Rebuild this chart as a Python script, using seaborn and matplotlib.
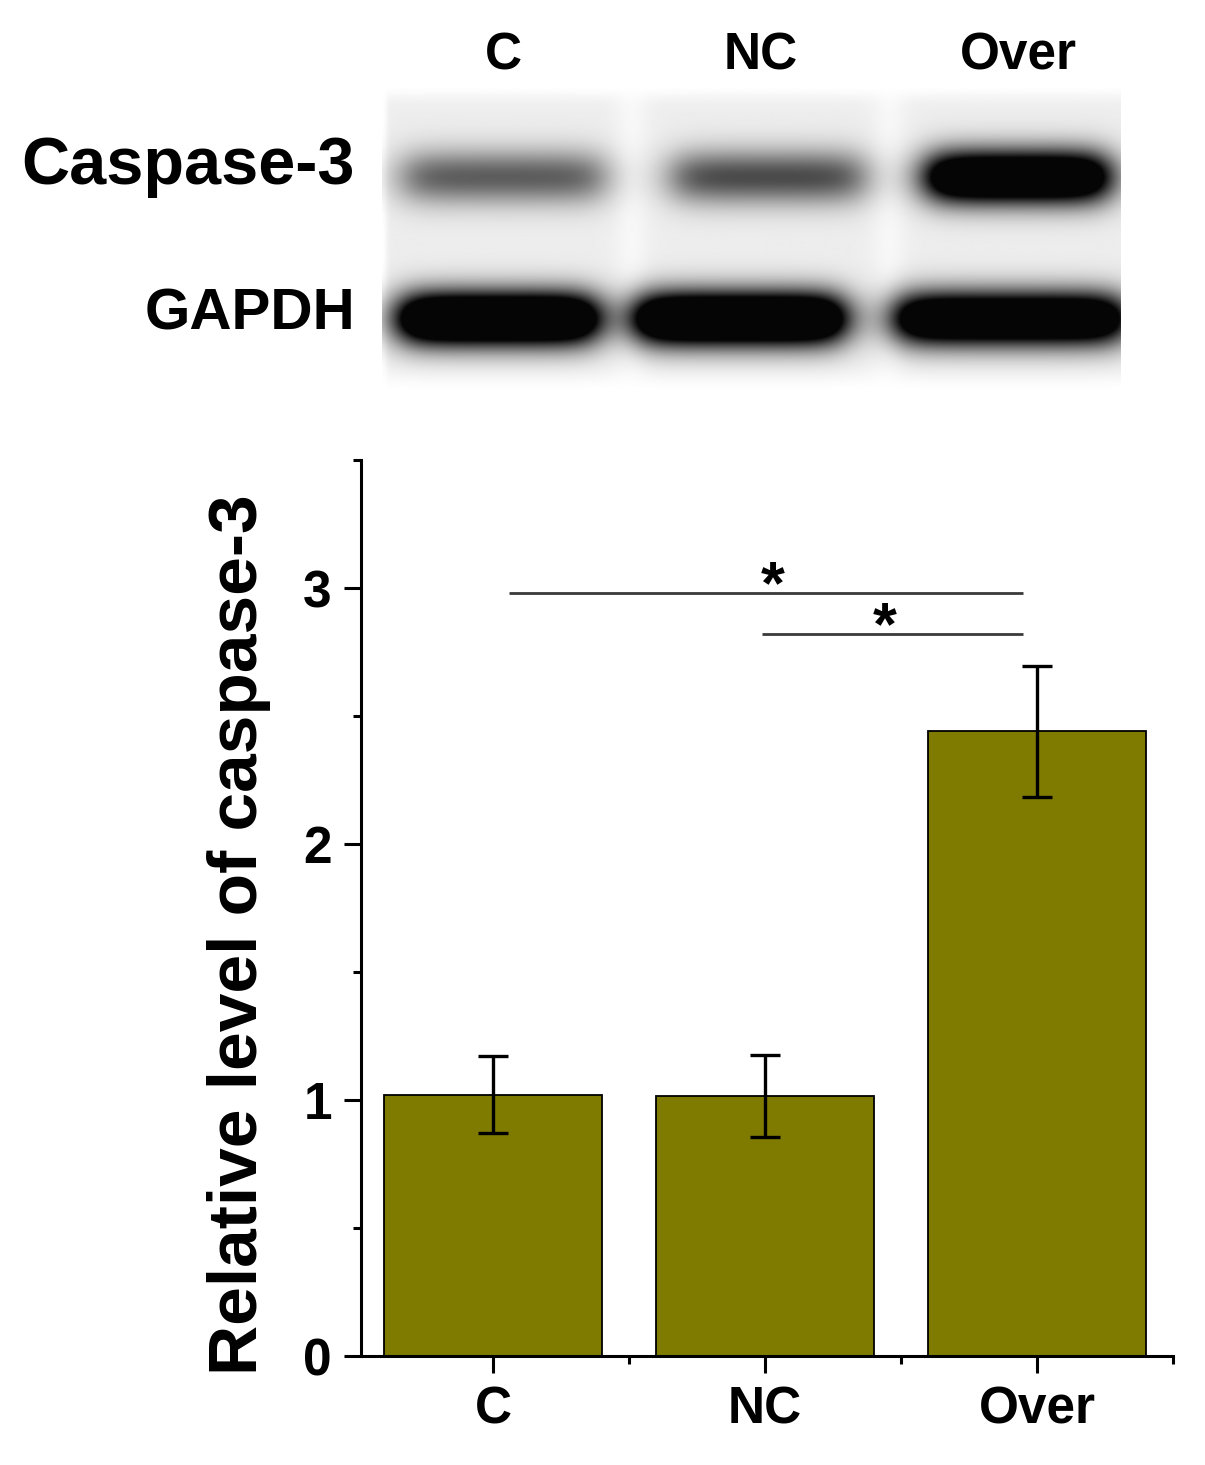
import numpy as np
import pandas as pd
import matplotlib
matplotlib.use("Agg")
import matplotlib.pyplot as plt
from matplotlib.ticker import MultipleLocator
import seaborn as sns

# quantification
groups = ["C", "NC", "Over"]
means = [1.02, 1.015, 2.44]
sds = [0.15, 0.16, 0.255]

# significance bars: (start, end, height)
sig_x0 = [0.06, 0.99]
sig_x1 = [1.95, 1.95]
sig_y = [2.98, 2.82]
star_x = [1.03, 1.44]

# western blot band darkness per lane (>1 = saturated)
blot_rows = ["Caspase-3", "GAPDH"]
casp_darkness = [0.62, 0.70, 1.7]
gapdh_darkness = [1.9, 1.9, 1.7]

bar_color = "#7f7b00"

if __name__ == "__main__":
    sns.set_style("white")
    plt.rcParams['font.family'] = ['Liberation Sans', 'DejaVu Sans']
    plt.rcParams['font.weight'] = 'bold'
    for k in ['text.color', 'axes.labelcolor', 'xtick.color', 'ytick.color']:
        plt.rcParams[k] = 'black'
    plt.rcParams['xtick.minor.width'] = 2.2
    plt.rcParams['ytick.minor.width'] = 2.2
    plt.rcParams['xtick.minor.size'] = 6
    plt.rcParams['ytick.minor.size'] = 6

    fig = plt.figure(figsize=(12.05, 14.65), dpi=100)
    W, H = 1205, 1465

    # ---------- blot ----------
    axb = fig.add_axes([382 / W, 1 - 392 / H, 739 / W, 307 / H])
    x0, x1 = -0.47, 2.40
    xs = np.linspace(x0, x1, 740)
    ys = np.linspace(0, 307, 308)
    X, Y = np.meshgrid(xs, ys)
    bg = np.full_like(X, 0.93)
    # lighter gaps between lanes
    for g in [0.5, 1.5]:
        bg += 0.04 * np.exp(-((X - g) / 0.07) ** 2)
    # fade edges to white
    bg += (1 - bg) * np.exp(-(Y / 14.0) ** 2)
    bg += (1 - bg) * np.exp(-((307 - Y) / 22.0) ** 2)
    bg += (1 - bg) * np.exp(-((X - x0) / 0.02) ** 2)
    dark = np.zeros_like(X)
    rows = [(casp_darkness, 92, 27, [0.0, 0.03, 0.0], [0.39, 0.37, 0.35]),
            (gapdh_darkness, 234, 27, [-0.02, -0.08, -0.03], [0.38, 0.40, 0.44])]
    for vals, yc, sy, shifts, hws in rows:
        for i, v in enumerate(vals):
            dx = X - (i + shifts[i])
            hw = hws[i]
            px = 0.5 * (np.tanh((dx + hw) / 0.09) - np.tanh((dx - hw) / 0.09))
            py = np.exp(-(np.abs(Y - yc) / sy) ** 2.0)
            dark += v * px * py
    img = bg * (1 - np.clip(dark, 0, 1)) + 0.02 * np.clip(dark, 0, 1)
    img = np.clip(img, 0, 1)
    axb.imshow(img, cmap="gray", vmin=0, vmax=1, extent=(x0, x1, 307, 0),
               aspect="auto", interpolation="bilinear")
    axb.set_xlim(x0, x1)
    axb.set_ylim(307, 0)
    axb.axis("off")
    for i, g in enumerate(groups):
        axb.text(i, -15, g, ha="center", va="baseline", fontsize=37, fontweight="bold")

    fig.text(355 / W, 1 - 184 / H, blot_rows[0], ha="right", va="baseline",
             fontsize=48, fontweight="bold")
    fig.text(355 / W, 1 - 330 / H, blot_rows[1], ha="right", va="baseline",
             fontsize=42, fontweight="bold")

    # ---------- bar chart ----------
    ax = fig.add_axes([361 / W, 1 - 1356 / H, (1173 - 361) / W, (1356 - 460) / H])
    df = pd.DataFrame({"group": groups, "value": means, "sd": sds})
    sns.barplot(data=df, x="group", y="value", color=bar_color, saturation=1,
                edgecolor="black", linewidth=1.3, width=0.8, errorbar=None, ax=ax)
    ax.errorbar(x=np.arange(len(groups)), y=df["value"], yerr=df["sd"], fmt="none",
                ecolor="black", elinewidth=2.4, capsize=11, capthick=2.4, zorder=5)

    for a, b, h in zip(sig_x0, sig_x1, sig_y):
        ax.plot([a, b], [h, h], color="#3a3a3a", linewidth=2.0, solid_capstyle="butt")
    for sx, h in zip(star_x, sig_y):
        ax.text(sx, h - 0.04, "*", ha="center", va="baseline", fontsize=44,
                fontweight="bold")

    ax.set_xlim(-0.485, 2.5)
    ax.set_ylim(0, 3.5)
    ax.yaxis.set_major_locator(MultipleLocator(1))
    ax.yaxis.set_minor_locator(MultipleLocator(0.5))
    ax.set_xticks([0, 1, 2])
    ax.set_xticks([0.5, 1.5, 2.5], minor=True)
    ax.set_xticklabels(groups)
    for s in ["top", "right"]:
        ax.spines[s].set_visible(False)
    for s in ["left", "bottom"]:
        ax.spines[s].set_linewidth(2.2)
        ax.spines[s].set_color("black")
    ax.tick_params(which="major", direction="out", length=12, width=2.2,
                   labelsize=37, pad=9, left=True, bottom=True, colors="black")
    ax.tick_params(which="minor", direction="out", length=6, width=2.2,
                   left=True, bottom=True, colors="black")
    for lab in ax.get_xticklabels() + ax.get_yticklabels():
        lab.set_fontweight("bold")
    ax.set_xlabel("")
    ax.set_ylabel("")
    fig.text(239 / W, 1 - 935 / H, "Relative level of caspase-3", rotation=90,
             ha="center", va="center", fontsize=50, fontweight="bold")

    fig.savefig("out.png", dpi=100)
